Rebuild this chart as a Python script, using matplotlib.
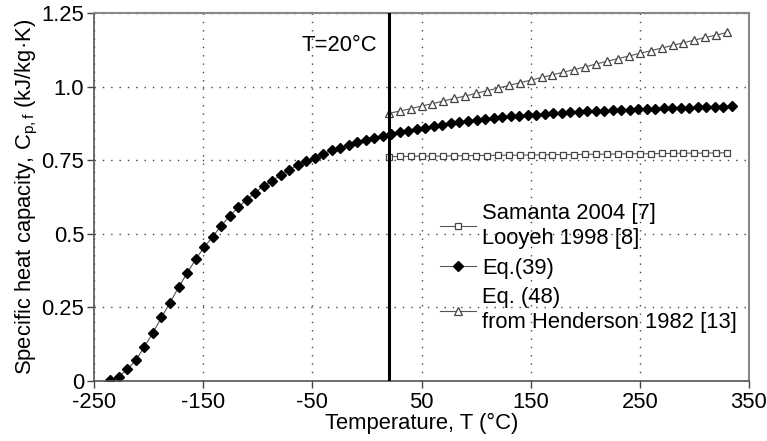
import numpy as np
import matplotlib
matplotlib.use("Agg")
import matplotlib.pyplot as plt

plt.rcParams['font.family'] = ['Liberation Sans', 'DejaVu Sans']
plt.rcParams['mathtext.fontset'] = 'custom'
plt.rcParams['mathtext.rm'] = 'Liberation Sans'
plt.rcParams['mathtext.it'] = 'Liberation Sans:italic'
plt.rcParams['axes.unicode_minus'] = False

# Eq.(39) - whole range
T_eq39 = [-235.0, -227.2, -219.4, -211.6, -203.8, -196.0, -188.2, -180.4, -172.6, -164.8,
          -157.0, -149.2, -141.4, -133.6, -125.8, -118.0, -110.2, -102.4, -94.6, -86.8,
          -79.0, -71.2, -63.4, -55.6, -47.8, -40.0, -32.2, -24.4, -16.6, -8.8,
          -1.0, 6.8, 14.6, 22.4, 30.2, 38.0, 45.8, 53.6, 61.4, 69.2,
          77.0, 84.8, 92.6, 100.4, 108.2, 116.0, 123.8, 131.6, 139.4, 147.2,
          155.0, 162.8, 170.6, 178.4, 186.2, 194.0, 201.8, 209.6, 217.4, 225.2,
          233.0, 240.8, 248.6, 256.4, 264.2, 272.0, 279.8, 287.6, 295.4, 303.2,
          311.0, 318.8, 326.6, 334.4]
cp_eq39 = [0.003, 0.015, 0.040, 0.071, 0.117, 0.164, 0.216, 0.266, 0.318, 0.366,
           0.413, 0.454, 0.490, 0.527, 0.560, 0.590, 0.615, 0.640, 0.663, 0.680,
           0.699, 0.717, 0.733, 0.747, 0.758, 0.771, 0.784, 0.793, 0.803, 0.811,
           0.818, 0.825, 0.832, 0.838, 0.845, 0.850, 0.856, 0.861, 0.866, 0.871,
           0.875, 0.879, 0.883, 0.887, 0.890, 0.893, 0.896, 0.899, 0.901, 0.903,
           0.905, 0.907, 0.909, 0.911, 0.913, 0.914, 0.916, 0.917, 0.918, 0.920,
           0.921, 0.922, 0.923, 0.924, 0.925, 0.926, 0.927, 0.928, 0.929, 0.930,
           0.931, 0.931, 0.932, 0.933]

# Samanta / Looyeh and Eq.(48) from 20 C upwards
T_hot = [20, 30, 40, 50, 60, 70, 80, 90, 100, 110, 120, 130, 140, 150, 160, 170,
         180, 190, 200, 210, 220, 230, 240, 250, 260, 270, 280, 290, 300, 310, 320, 330]
cp_samanta = [0.762, 0.763, 0.763, 0.764, 0.764, 0.764, 0.765, 0.765, 0.766, 0.766,
              0.767, 0.767, 0.767, 0.768, 0.768, 0.769, 0.769, 0.769, 0.770, 0.770,
              0.771, 0.771, 0.772, 0.772, 0.772, 0.773, 0.773, 0.774, 0.774, 0.774,
              0.775, 0.775]
cp_eq48 = [0.909, 0.917, 0.925, 0.934, 0.942, 0.951, 0.960, 0.968, 0.977, 0.986,
           0.995, 1.004, 1.013, 1.022, 1.031, 1.040, 1.049, 1.058, 1.067, 1.077,
           1.086, 1.095, 1.104, 1.113, 1.122, 1.131, 1.140, 1.149, 1.158, 1.167,
           1.175, 1.184]

xticks = [-250, -150, -50, 50, 150, 250, 350]
yticks = [0, 0.25, 0.5, 0.75, 1.0, 1.25]
ytick_labels = ['0', '0.25', '0.5', '0.75', '1.0', '1.25']

fs = 15.8

fig = plt.figure(figsize=(7.67, 4.41), dpi=100)
ax = fig.add_axes([0.1226, 0.136, 0.8539, 0.8345])

ax.plot(T_hot, cp_samanta, color='#555555', lw=0.8, marker='s', ms=4.2,
        mfc='white', mec='#444444', mew=0.9, label='Samanta 2004 [7]\nLooyeh 1998 [8]')
ax.plot(T_eq39, cp_eq39, color='#555555', lw=0.8, marker='D', ms=4.6,
        mfc='black', mec='black', label='Eq.(39)')
ax.plot(T_hot, cp_eq48, color='#555555', lw=0.8, marker='^', ms=5.2,
        mfc='white', mec='#444444', mew=0.9, label='Eq. (48)\nfrom Henderson 1982 [13]')

# T = 20 C line
ax.axvline(20, color='black', lw=2.2, zorder=5)
ax.text(-59.5, 1.141, 'T=20\u00b0C', fontsize=fs, va='center', ha='left')

ax.set_xlim(-250, 350)
ax.set_ylim(0, 1.25)
ax.set_xticks(xticks)
ax.set_yticks(yticks)
ax.set_yticklabels(ytick_labels)
ax.tick_params(labelsize=fs, direction='out', length=5, width=1, color='#444444', pad=2)
ax.tick_params(axis='x', pad=3)
ax.grid(True, color='#444444', lw=1.0, linestyle=(0, (1, 5)))

for side in ['left', 'bottom']:
    ax.spines[side].set_color('#555555')
    ax.spines[side].set_linewidth(1.2)
for side in ['top', 'right']:
    ax.spines[side].set_color('#888888')
    ax.spines[side].set_linewidth(1.5)

ax.set_xlabel('Temperature, T (\u00b0C)', fontsize=fs, labelpad=0)
ax.set_ylabel('Specific heat capacity, C$_{\\mathregular{p,f}}$ (kJ/kg\u00b7K)', fontsize=fs, labelpad=1)

leg = ax.legend(loc='upper left', bbox_to_anchor=(0.528, 0.484), frameon=False, fontsize=fs,
                handlelength=1.64, handletextpad=0.3, labelspacing=0.4, borderpad=0,
                borderaxespad=0)
for t in leg.get_texts():
    t.set_linespacing(1.25)

fig.savefig('out.png', dpi=100)
